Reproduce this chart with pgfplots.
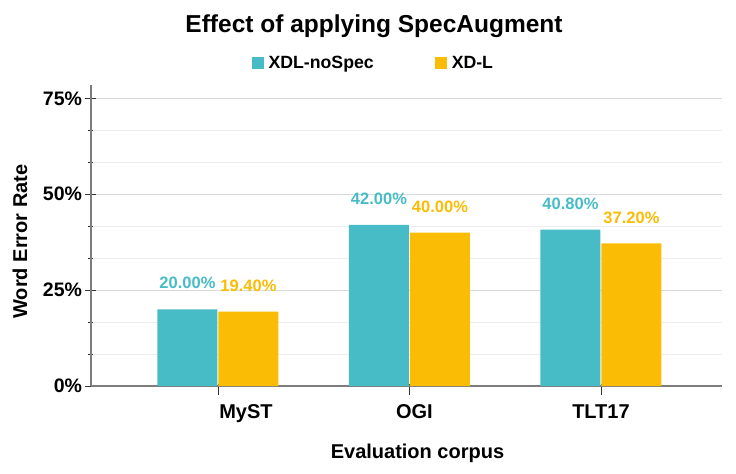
\documentclass[border=0pt]{standalone}
\usepackage{fontspec}
\setmainfont{Liberation Sans}
\usepackage{pgfplots}
\pgfplotsset{compat=1.18}
\definecolor{cteal}{RGB}{71,188,198}
\definecolor{cyel}{RGB}{250,188,5}
\definecolor{gridmaj}{RGB}{218,218,218}
\definecolor{gridmin}{RGB}{238,238,238}
\definecolor{axgray}{RGB}{125,125,125}
\begin{document}
\begin{tikzpicture}
\begin{axis}[
  name=ax,
  scale only axis,
  width=631bp, height=301bp,
  xmin=-0.663, xmax=2.632,
  ymin=0, ymax=78.5,
  axis lines=left,
  axis line style={-, draw=axgray, line width=1.3bp},
  ybar=1bp,
  bar width=60bp,
  xtick={0,1,2},
  xticklabels={},
  extra x ticks={0.146,1.026,2.0},
  extra x tick labels={MyST,OGI,TLT17},
  extra x tick style={major tick length=0pt, tick label style={anchor=base, yshift=-32bp}},
  xticklabel style={font=\fontsize{20bp}{24bp}\selectfont\bfseries},
  ytick={0,25,50,75},
  yticklabels={0\%,25\%,50\%,75\%},
  yticklabel style={font=\fontsize{19.5bp}{23bp}\selectfont\bfseries},
  minor y tick num=2,
  ymajorgrids, yminorgrids,
  major grid style={draw=gridmaj, line width=1bp},
  minor grid style={draw=gridmin, line width=1bp},
  tick align=center,
  major tick length=11bp,
  minor tick length=5bp,
  every tick/.style={draw=black!80, line width=0.9bp},
  x tick style={yshift=-3bp},
  /pgf/number format/assume math mode=true,
  nodes near coords={\pgfmathprintnumber[fixed,fixed zerofill,precision=2]{\pgfplotspointmeta}\%},
  nodes near coords style={anchor=center, inner sep=0pt, yshift=26bp, font=\fontsize{16.5bp}{20bp}\selectfont\bfseries},
  every axis title shift=0pt,
  title={Effect of applying SpecAugment},
  title style={at={(axis description cs:0.4485,1.1728)}, anchor=base, yshift=0pt, font=\fontsize{24.5bp}{29bp}\selectfont\bfseries},
  xlabel={Evaluation corpus},
  xlabel style={at={(axis description cs:0.5174,-0.2425)}, anchor=base, font=\fontsize{20bp}{24bp}\selectfont\bfseries},
  ylabel={Word Error Rate},
  ylabel style={at={(axis description cs:-0.1014,0.4801)}, anchor=base, font=\fontsize{20bp}{24bp}\selectfont\bfseries},
  legend style={draw=none, fill=none, inner sep=0pt, outer sep=0pt,
    at={(axis description cs:0.2552,1.0731)}, anchor=west,
    font=\fontsize{17.7bp}{21bp}\selectfont\bfseries,
    /tikz/every even column/.append style={column sep=57bp},
    nodes={inner xsep=4.5bp, inner ysep=0bp}},
  legend columns=2,
  legend cell align=left,
]
\addplot[fill=cteal, draw=none, every node near coord/.append style={text=cteal},
  legend image code/.code={\fill[cteal] (0bp,-6bp) rectangle (12bp,6bp);}]
  coordinates {(0,20.0) (1,42.0) (2,40.8)};
\addplot[fill=cyel, draw=none, every node near coord/.append style={text=cyel},
  legend image code/.code={\fill[cyel] (0bp,-6bp) rectangle (12bp,6bp);}]
  coordinates {(0,19.4) (1,40.0) (2,37.2)};
\legend{XDL-noSpec, XD-L}
\end{axis}
\pgfresetboundingbox
\path[use as bounding box] (ax.south west) ++(-91bp,-88bp) rectangle ++(736bp,474bp);
\end{tikzpicture}
\end{document}
